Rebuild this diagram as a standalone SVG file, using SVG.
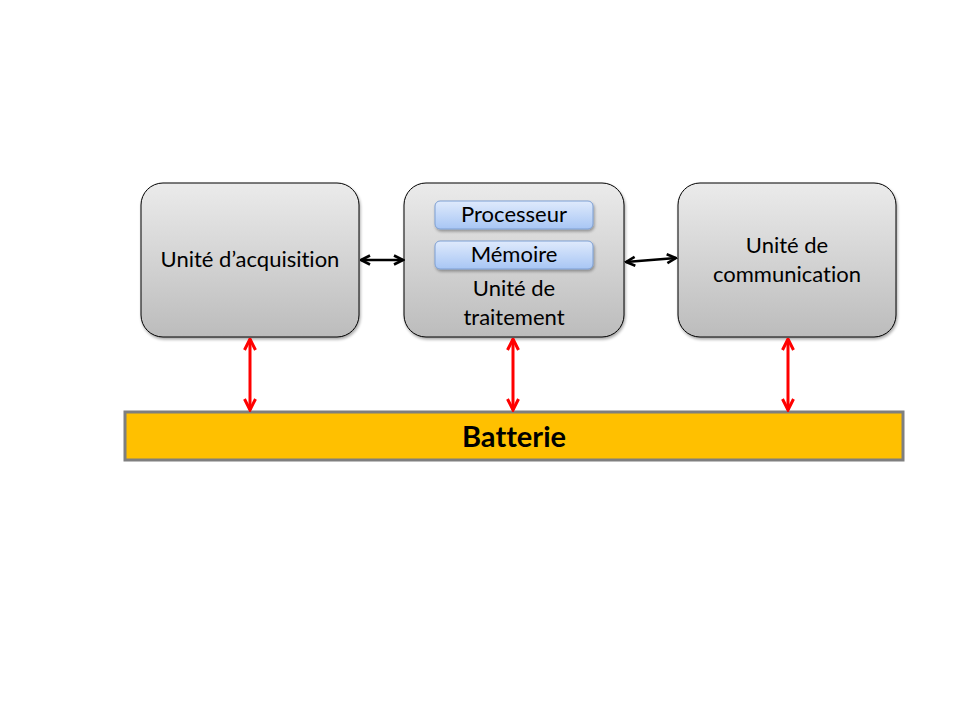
<svg xmlns="http://www.w3.org/2000/svg" width="960" height="720" viewBox="0 0 960 720">
<defs>
<linearGradient id="gray" x1="0" y1="0" x2="0" y2="1">
<stop offset="0" stop-color="#ebebeb"/>
<stop offset="1" stop-color="#bcbcbc"/>
</linearGradient>
<linearGradient id="blue" x1="0" y1="0" x2="0" y2="1">
<stop offset="0" stop-color="#dfeafc"/>
<stop offset="1" stop-color="#a8c6f4"/>
</linearGradient>
<filter id="sh" x="-10%" y="-10%" width="125%" height="130%">
<feGaussianBlur in="SourceAlpha" stdDeviation="1.5"/>
<feOffset dx="1" dy="2" result="b"/>
<feComponentTransfer><feFuncA type="linear" slope="0.35"/></feComponentTransfer>
<feMerge><feMergeNode/><feMergeNode in="SourceGraphic"/></feMerge>
</filter>
<marker id="ak" viewBox="0 0 12 12" refX="10.5" refY="6" markerWidth="12" markerHeight="12" markerUnits="userSpaceOnUse" orient="auto-start-reverse">
<path d="M1.5,1.5 L10.5,6 L1.5,10.5" fill="none" stroke="#000" stroke-width="2.6"/>
</marker>
<marker id="ar" viewBox="0 0 14 14" refX="12.5" refY="7" markerWidth="14" markerHeight="14" markerUnits="userSpaceOnUse" orient="auto-start-reverse">
<path d="M1.5,1.5 L12.5,7 L1.5,12.5" fill="none" stroke="#ff0000" stroke-width="3"/>
</marker>
</defs>
<style>
text{font-variant-ligatures:none;font-feature-settings:"liga" 0,"clig" 0}
.box{fill:url(#gray);stroke:#000;stroke-width:1;filter:url(#sh)}
.sub{fill:url(#blue);stroke:#7d9fd3;stroke-width:1;filter:url(#sh)}
.t{font-family:Lato,"Open Sans","Liberation Sans",sans-serif;font-size:22px;fill:#000;text-anchor:middle}
.bl{stroke:#000;stroke-width:2.5;fill:none}
.rd{stroke:#ff0000;stroke-width:3;fill:none}
</style>
<rect width="960" height="720" fill="#fff"/>
<g id="acquisition">
<rect class="box" x="141" y="183" width="218" height="154" rx="22"/>
<text class="t" x="250" y="267">Unité d’acquisition</text>
</g>
<g id="traitement">
<rect class="box" x="404" y="183" width="220" height="154" rx="22"/>
<text class="t" x="514" y="296">Unité de</text>
<text class="t" x="514" y="325">traitement</text>
</g>
<g id="processeur">
<rect class="sub" x="435" y="201" width="158" height="28" rx="5"/>
<text class="t" x="514" y="222">Processeur</text>
</g>
<g id="memoire">
<rect class="sub" x="435" y="241" width="158" height="28" rx="5"/>
<text class="t" x="514" y="262">Mémoire</text>
</g>
<g id="communication">
<rect class="box" x="678" y="183" width="218" height="154" rx="22"/>
<text class="t" x="787" y="253">Unité de</text>
<text class="t" x="787" y="282">communication</text>
</g>
<g id="batterie">
<rect x="125" y="412" width="778" height="48" fill="#ffc000" stroke="#7f7f7f" stroke-width="3"/>
<text x="514" y="447" font-family="Lato,'Open Sans','Liberation Sans',sans-serif" font-size="29" font-weight="bold" text-anchor="middle" fill="#000">Batterie</text>
</g>
<g id="connectors">
<line class="bl" x1="361" y1="260" x2="403" y2="260" marker-start="url(#ak)" marker-end="url(#ak)"/>
<line class="bl" x1="626" y1="262" x2="676" y2="258" marker-start="url(#ak)" marker-end="url(#ak)"/>
<line class="rd" x1="250" y1="339" x2="250" y2="410" marker-start="url(#ar)" marker-end="url(#ar)"/>
<line class="rd" x1="513" y1="339" x2="513" y2="410" marker-start="url(#ar)" marker-end="url(#ar)"/>
<line class="rd" x1="788" y1="339" x2="788" y2="410" marker-start="url(#ar)" marker-end="url(#ar)"/>
</g>
</svg>
